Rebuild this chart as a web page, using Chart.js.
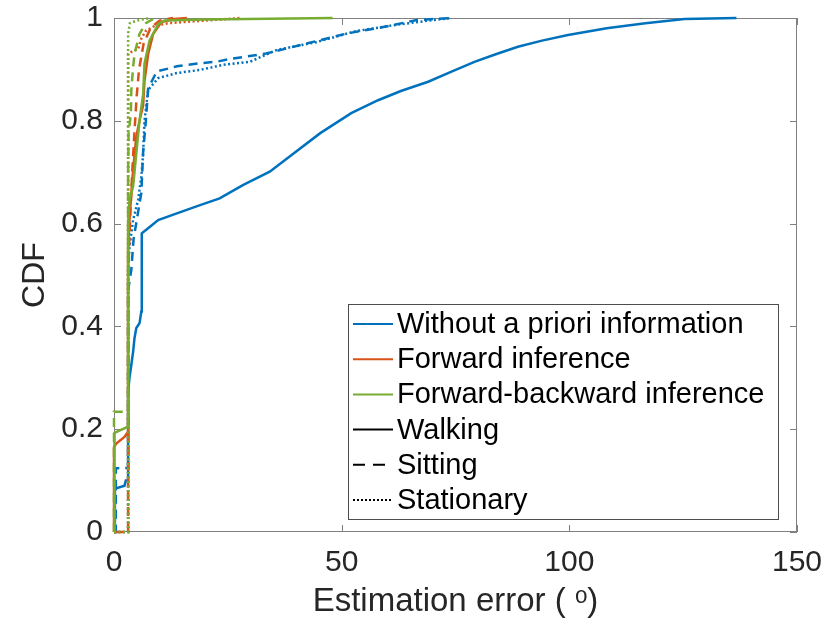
<!DOCTYPE html>
<html><head><meta charset="utf-8">
<script src="https://cdn.jsdelivr.net/npm/chart.js@4/dist/chart.umd.min.js"></script>
<style>html,body{margin:0;padding:0;background:#fff;}#wrap{width:833px;height:623px;position:relative;}</style>
</head><body><div id="wrap"><canvas id="c" width="833" height="623"></canvas></div>
<script>
// ---- tick labels ----
const xTickLabels = ['0', '50', '100', '150'];
const yTickLabels = ['0', '0.2', '0.4', '0.6', '0.8', '1'];
const xTitle = 'Estimation error ( \u1D52)';
const yTitle = 'CDF';
// ---- legend ----
const methodLabels = ['Without a priori information', 'Forward inference', 'Forward-backward inference'];
const activityLabels = ['Walking', 'Sitting', 'Stationary'];

// ---- series: [error, CDF] ----
const withoutWalking = [[0,0],[0.2,0],[0.2,0.08],[0.5,0.085],[2.3,0.09],[2.6,0.1],[3.1,0.1],[3.1,0.273],[3.4,0.3],[3.8,0.325],[4.2,0.351],[4.5,0.377],[4.9,0.397],[5.6,0.406],[6,0.429],[6.1,0.5],[6.1,0.581],[7.9,0.594],[9.7,0.607],[13.8,0.62],[18.9,0.636],[23.2,0.649],[28.3,0.675],[34.2,0.701],[38.5,0.73],[45.3,0.776],[52.1,0.815],[58,0.84],[63,0.858],[69,0.876],[74,0.895],[79.3,0.915],[84,0.93],[88.7,0.944],[94,0.956],[99.7,0.967],[108.2,0.98],[116.7,0.99],[125.3,0.998],[136.7,1]];
const withoutSitting = [[0,0],[0.4,0],[0.4,0.124],[1.6,0.124],[3.1,0.125],[3.1,0.47],[3.8,0.51],[4.3,0.57],[6,0.66],[6.4,0.74],[7,0.8],[7.5,0.863],[9.4,0.896],[13.8,0.906],[18.9,0.912],[22.6,0.915],[25.3,0.92],[29.1,0.925],[33.4,0.931],[37.1,0.939],[43.5,0.953],[51.2,0.97],[58.9,0.982],[66.5,0.996],[74.2,1]];
const withoutStationary = [[0,0],[3.1,0],[3.1,0.51],[3.4,0.555],[4.2,0.607],[5.3,0.646],[6,0.691],[6.4,0.737],[6.7,0.8],[7.5,0.86],[9.7,0.883],[13.8,0.893],[18.9,0.899],[24,0.909],[29.9,0.915],[35.8,0.938],[44.4,0.953],[52.9,0.974],[61.4,0.986],[70,0.996],[74.2,1]];
const forwardWalking = [[0,0],[0,0.165],[0.5,0.172],[2.3,0.185],[3.1,0.195],[3.1,0.55],[3.4,0.607],[3.8,0.659],[4.2,0.704],[4.9,0.769],[5.6,0.8],[6.4,0.83],[6.7,0.878],[7.5,0.93],[8.6,0.969],[10.4,0.992],[13.3,0.998],[16,1]];
const forwardSitting = [[0,0],[3.1,0],[3.1,0.5],[3.5,0.6],[4,0.7],[4.5,0.78],[5,0.85],[5.5,0.9],[6.5,0.95],[8,0.98],[10,0.995],[13,1]];
const forwardStationary = [[0,0],[3.1,0],[3.1,0.93],[4,0.935],[5.3,0.94],[6,0.96],[7,0.975],[9,0.985],[12,0.99],[20,0.995],[27.8,1]];
const fbWalking = [[0,0],[0,0.19],[0.2,0.193],[3.1,0.205],[3.1,0.6],[3.4,0.646],[4.2,0.672],[4.9,0.737],[5.6,0.8],[6.4,0.852],[6.7,0.911],[7.8,0.956],[9.7,0.988],[11.1,0.995],[20,0.997],[48,1]];
const fbSitting = [[0,0],[0,0.234],[3.1,0.234],[3.1,0.7],[3.2,0.776],[3.7,0.813],[3.8,0.859],[4.2,0.905],[4.5,0.93],[5.6,0.969],[7,0.99],[9,1]];
const fbStationary = [[0,0],[3.1,0],[3.1,0.97],[3.5,0.99],[5,0.995],[8,1]];

const BLUE = '#0072BD', ORANGE = '#D95319', GREEN = '#77AC30';
const SOLID = [], DASHED = [9, 6], DOTTED = [2, 2.5];
const AXIS = '#808080', TEXT = '#262626';
const FONT = '"Liberation Sans", Arial, sans-serif';

function ds(pts, color, dash, order) {
  return {
    data: pts.map(p => ({x: p[0], y: p[1]})),
    borderColor: color, backgroundColor: color, borderWidth: 2.5,
    borderDash: dash, pointRadius: 0, showLine: true, tension: 0,
    fill: false, order: order, clip: false
  };
}

const datasets = [
  ds(withoutWalking, BLUE, SOLID, 3), ds(withoutSitting, BLUE, DASHED, 3), ds(withoutStationary, BLUE, DOTTED, 3),
  ds(forwardWalking, ORANGE, SOLID, 2), ds(forwardSitting, ORANGE, DASHED, 2), ds(forwardStationary, ORANGE, DOTTED, 2),
  ds(fbWalking, GREEN, SOLID, 1), ds(fbSitting, GREEN, DASHED, 1), ds(fbStationary, GREEN, DOTTED, 1)
];

const boxPlugin = {
  id: 'boxPlugin',
  beforeDatasetsDraw(chart) {
    const {ctx, chartArea: a, scales: {x, y}} = chart;
    ctx.save();
    ctx.strokeStyle = AXIS; ctx.lineWidth = 1; ctx.setLineDash([]);
    ctx.strokeRect(a.left + 0.5, a.top + 0.5, a.right - a.left - 1, a.bottom - a.top - 1);
    const tl = 7;
    ctx.beginPath();
    x.ticks.forEach(t => {
      const px = Math.round(x.getPixelForValue(t.value)) + 0.5;
      ctx.moveTo(px, a.bottom); ctx.lineTo(px, a.bottom - tl);
      ctx.moveTo(px, a.top); ctx.lineTo(px, a.top + tl);
    });
    y.ticks.forEach(t => {
      const py = Math.round(y.getPixelForValue(t.value)) + 0.5;
      ctx.moveTo(a.left, py); ctx.lineTo(a.left + tl, py);
      ctx.moveTo(a.right, py); ctx.lineTo(a.right - tl, py);
    });
    ctx.stroke();
    ctx.restore();
  },
  afterDraw(chart) {
    const {ctx} = chart;
    ctx.save();
    // legend
    const L = 348.5, T = 304.5, W = 430, H = 215;
    ctx.fillStyle = '#fff'; ctx.fillRect(L, T, W, H);
    ctx.strokeStyle = '#4d4d4d'; ctx.lineWidth = 1; ctx.strokeRect(L, T, W, H);
    const entries = [
      {t: methodLabels[0], c: BLUE, d: SOLID}, {t: methodLabels[1], c: ORANGE, d: SOLID}, {t: methodLabels[2], c: GREEN, d: SOLID},
      {t: activityLabels[0], c: '#000', d: SOLID}, {t: activityLabels[1], c: '#000', d: [12, 8]}, {t: activityLabels[2], c: '#000', d: [2, 2]}
    ];
    ctx.font = '29px ' + FONT;
    ctx.textBaseline = 'middle'; ctx.textAlign = 'left';
    entries.forEach((e, i) => {
      const cy = 324 + i * 35.2;
      ctx.strokeStyle = e.c; ctx.lineWidth = 2; ctx.setLineDash(e.d);
      ctx.beginPath(); ctx.moveTo(353, cy); ctx.lineTo(393, cy); ctx.stroke();
      ctx.setLineDash([]);
      ctx.fillStyle = '#000'; ctx.fillText(e.t, 397, cy + 1);
    });
    ctx.restore();
  }
};

new Chart(document.getElementById('c'), {
  type: 'scatter',
  data: {datasets},
  plugins: [boxPlugin],
  options: {
    responsive: false, animation: false, devicePixelRatio: 1,
    layout: {padding: {top: 18, right: 36, left: 0, bottom: 0}},
    plugins: {legend: {display: false}, tooltip: {enabled: false}},
    scales: {
      x: {
        type: 'linear', min: 0, max: 150,
        afterFit: s => { s.height = 91; s.paddingLeft = 0; s.paddingRight = 0; },
        grid: {display: false, drawTicks: false}, border: {display: false},
        ticks: {stepSize: 50, padding: 13, color: TEXT, font: {family: FONT, size: 30},
          callback: (v, i) => xTickLabels[i]},
        title: {display: true, text: xTitle, color: TEXT, font: {family: FONT, size: 33}, padding: {top: 0, bottom: 1}}
      },
      y: {
        type: 'linear', min: 0, max: 1,
        afterFit: s => { s.width = 114; s.paddingTop = 0; s.paddingBottom = 0; },
        grid: {display: false, drawTicks: false}, border: {display: false},
        ticks: {stepSize: 0.2, padding: 11, color: TEXT, font: {family: FONT, size: 30},
          callback: (v, i) => yTickLabels[i]},
        title: {display: true, text: yTitle, color: TEXT, font: {family: FONT, size: 32}, padding: {top: 16, bottom: 0}}
      }
    }
  }
});
</script></body></html>
